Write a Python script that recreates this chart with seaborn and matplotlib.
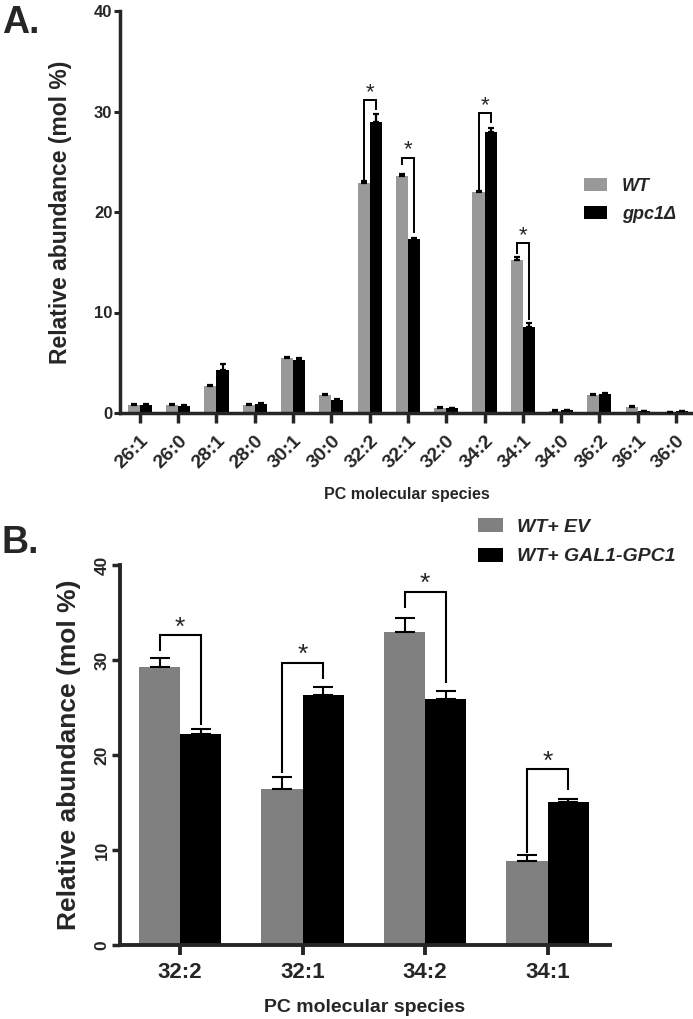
import numpy as np
import pandas as pd
import seaborn as sns
import matplotlib.pyplot as plt

# panel A: PC species in WT vs gpc1 deletion
species_a = ["26:1", "26:0", "28:1", "28:0", "30:1", "30:0", "32:2", "32:1",
             "32:0", "34:2", "34:1", "34:0", "36:2", "36:1", "36:0"]
wt_a = [0.75, 0.75, 2.7, 0.75, 5.45, 1.8, 22.9, 23.6, 0.5, 22.0, 15.2, 0.2, 1.8, 0.55, 0.05]
wt_err_a = [0.1, 0.1, 0.1, 0.1, 0.1, 0.1, 0.15, 0.15, 0.1, 0.1, 0.3, 0.05, 0.1, 0.1, 0.02]
gpc1_a = [0.8, 0.7, 4.3, 0.85, 5.3, 1.3, 29.0, 17.3, 0.45, 28.0, 8.6, 0.25, 1.9, 0.15, 0.2]
gpc1_err_a = [0.05, 0.05, 0.6, 0.1, 0.15, 0.1, 0.75, 0.1, 0.05, 0.35, 0.4, 0.05, 0.1, 0.03, 0.03]
groups_a = ["WT", "gpc1Δ"]

# significance brackets in A (category index, top, left leg end, right leg end)
sig_idx_a = [6, 7, 9, 10]
sig_top_a = [31.1, 25.4, 29.85, 16.9]
sig_left_a = [23.2, 24.7, 22.2, 15.8]
sig_right_a = [30.1, 17.9, 28.9, 9.3]

# panel B: overexpression
species_b = ["32:2", "32:1", "34:2", "34:1"]
ev_b = [29.3, 16.4, 32.9, 8.8]
ev_err_b = [0.95, 1.3, 1.55, 0.7]
gal_b = [22.2, 26.3, 25.9, 15.1]
gal_err_b = [0.5, 0.9, 0.8, 0.3]
groups_b = ["WT+ EV", "WT+ GAL1-GPC1"]

sig_idx_b = [0, 1, 2, 3]
sig_top_b = [32.6, 29.7, 37.2, 18.5]
sig_left_b = [30.9, 18.1, 35.5, 9.7]
sig_right_b = [23.2, 28.0, 27.6, 16.3]

sns.set_style("ticks")
plt.rcParams["font.family"] = ["Liberation Sans", "DejaVu Sans"]
plt.rcParams["font.weight"] = "bold"
plt.rcParams["axes.labelweight"] = "bold"


def long_frame(cats, vals1, vals2, names):
    return pd.DataFrame({
        "species": cats + cats,
        "value": vals1 + vals2,
        "group": [names[0]] * len(cats) + [names[1]] * len(cats),
    })


def draw_panel(ax, df, names, colors, errs, width, capsize, elw, spine_w):
    sns.barplot(data=df, x="species", y="value", hue="group",
                hue_order=names, palette=dict(zip(names, colors)),
                width=width, saturation=1, errorbar=None, linewidth=0, ax=ax)
    centers = []
    for cont, err in zip(ax.containers, errs):
        xs = [p.get_x() + p.get_width() / 2 for p in cont.patches]
        hs = [p.get_height() for p in cont.patches]
        centers.append(xs)
        ax.errorbar(xs, hs, yerr=[np.zeros(len(err)), err], fmt="none",
                    ecolor="black", elinewidth=elw, capsize=capsize,
                    capthick=elw, zorder=3)
    ax.set_ylim(0, 40)
    ax.set_yticks([0, 10, 20, 30, 40])
    for side in ["top", "right"]:
        ax.spines[side].set_visible(False)
    for side in ["left", "bottom"]:
        ax.spines[side].set_linewidth(spine_w)
    for t in ax.get_xticklabels() + ax.get_yticklabels():
        t.set_fontweight("bold")
    return centers


def brackets(ax, centers, idx, tops, lefts, rights, lw, star_size, star_pad):
    for i, t, l, r in zip(idx, tops, lefts, rights):
        x0 = centers[0][i]
        x1 = centers[1][i]
        ax.plot([x0, x0, x1, x1], [l, t, t, r], color="black", lw=lw,
                solid_capstyle="butt", solid_joinstyle="miter", zorder=4)
        ax.annotate("*", xy=((x0 + x1) / 2, t), xytext=(0, star_pad),
                    textcoords="offset points", ha="center", va="bottom",
                    fontsize=star_size, fontweight="normal")


fig = plt.figure(figsize=(6.93, 10.19), dpi=100)
W, H = 693, 1019

# ---- panel A
ax_a = fig.add_axes([120 / W, 1 - 413 / H, 574 / W, 402 / H])
df_a = long_frame(species_a, wt_a, gpc1_a, groups_a)
cen_a = draw_panel(ax_a, df_a, groups_a, ["#999999", "#000000"],
                   [wt_err_a, gpc1_err_a], 0.63, 2.5, 1.6, 2.5)
brackets(ax_a, cen_a, sig_idx_a, sig_top_a, sig_left_a, sig_right_a, 1.4, 16, -2)
ax_a.set_xlim(-0.52, 14.47)
ax_a.tick_params(axis="y", length=4.5, width=2.2, labelsize=12, pad=1)
ax_a.tick_params(axis="x", length=7, width=2.5, labelsize=14, pad=7)
plt.setp(ax_a.get_xticklabels(), rotation=45, ha="right", rotation_mode="anchor")
ax_a.set_xlabel("PC molecular species", fontsize=11.5, labelpad=11)
ax_a.set_ylabel("Relative abundance (mol %)", fontsize=16.5, labelpad=16)
h, lab = ax_a.get_legend_handles_labels()
ax_a.legend(h, lab, loc="upper left", bbox_to_anchor=(584 / W, 1 - 178 / H),
            bbox_transform=fig.transFigure, frameon=False, borderpad=0,
            borderaxespad=0, handlelength=1.3, handleheight=0.75,
            handletextpad=0.8, labelspacing=0.6,
            prop={"size": 13, "weight": "bold", "style": "italic"})

# ---- panel B
ax_b = fig.add_axes([120 / W, 1 - 945 / H, 490 / W, 380 / H])
df_b = long_frame(species_b, ev_b, gal_b, groups_b)
cen_b = draw_panel(ax_b, df_b, groups_b, ["#808080", "#000000"],
                   [ev_err_b, gal_err_b], 0.67, 7.5, 1.5, 2.8)
brackets(ax_b, cen_b, sig_idx_b, sig_top_b, sig_left_b, sig_right_b, 1.5, 19, -3)
ax_b.set_xlim(-0.49, 3.51)
ax_b.tick_params(axis="y", length=5.5, width=2.5, labelsize=12.5, pad=2)
ax_b.tick_params(axis="x", length=7, width=2.8, labelsize=16, pad=5)
plt.setp(ax_b.get_yticklabels(), rotation=90, va="center")
ax_b.set_xlabel("PC molecular species", fontsize=14, labelpad=12)
ax_b.set_ylabel("Relative abundance (mol %)", fontsize=19, labelpad=10)
h, lab = ax_b.get_legend_handles_labels()
ax_b.legend(h, lab, loc="upper left", bbox_to_anchor=(478 / W, 1 - 518 / H),
            bbox_transform=fig.transFigure, frameon=False, borderpad=0,
            borderaxespad=0, handlelength=1.3, handleheight=0.75,
            handletextpad=0.7, labelspacing=0.6,
            prop={"size": 14, "weight": "bold", "style": "italic"})

fig.text(2 / W, 1 - 33 / H, "A.", fontsize=27, fontweight="bold", va="baseline")
fig.text(2 / W, 1 - 553 / H, "B.", fontsize=27, fontweight="bold", va="baseline")

fig.savefig("out.png", dpi=100)
